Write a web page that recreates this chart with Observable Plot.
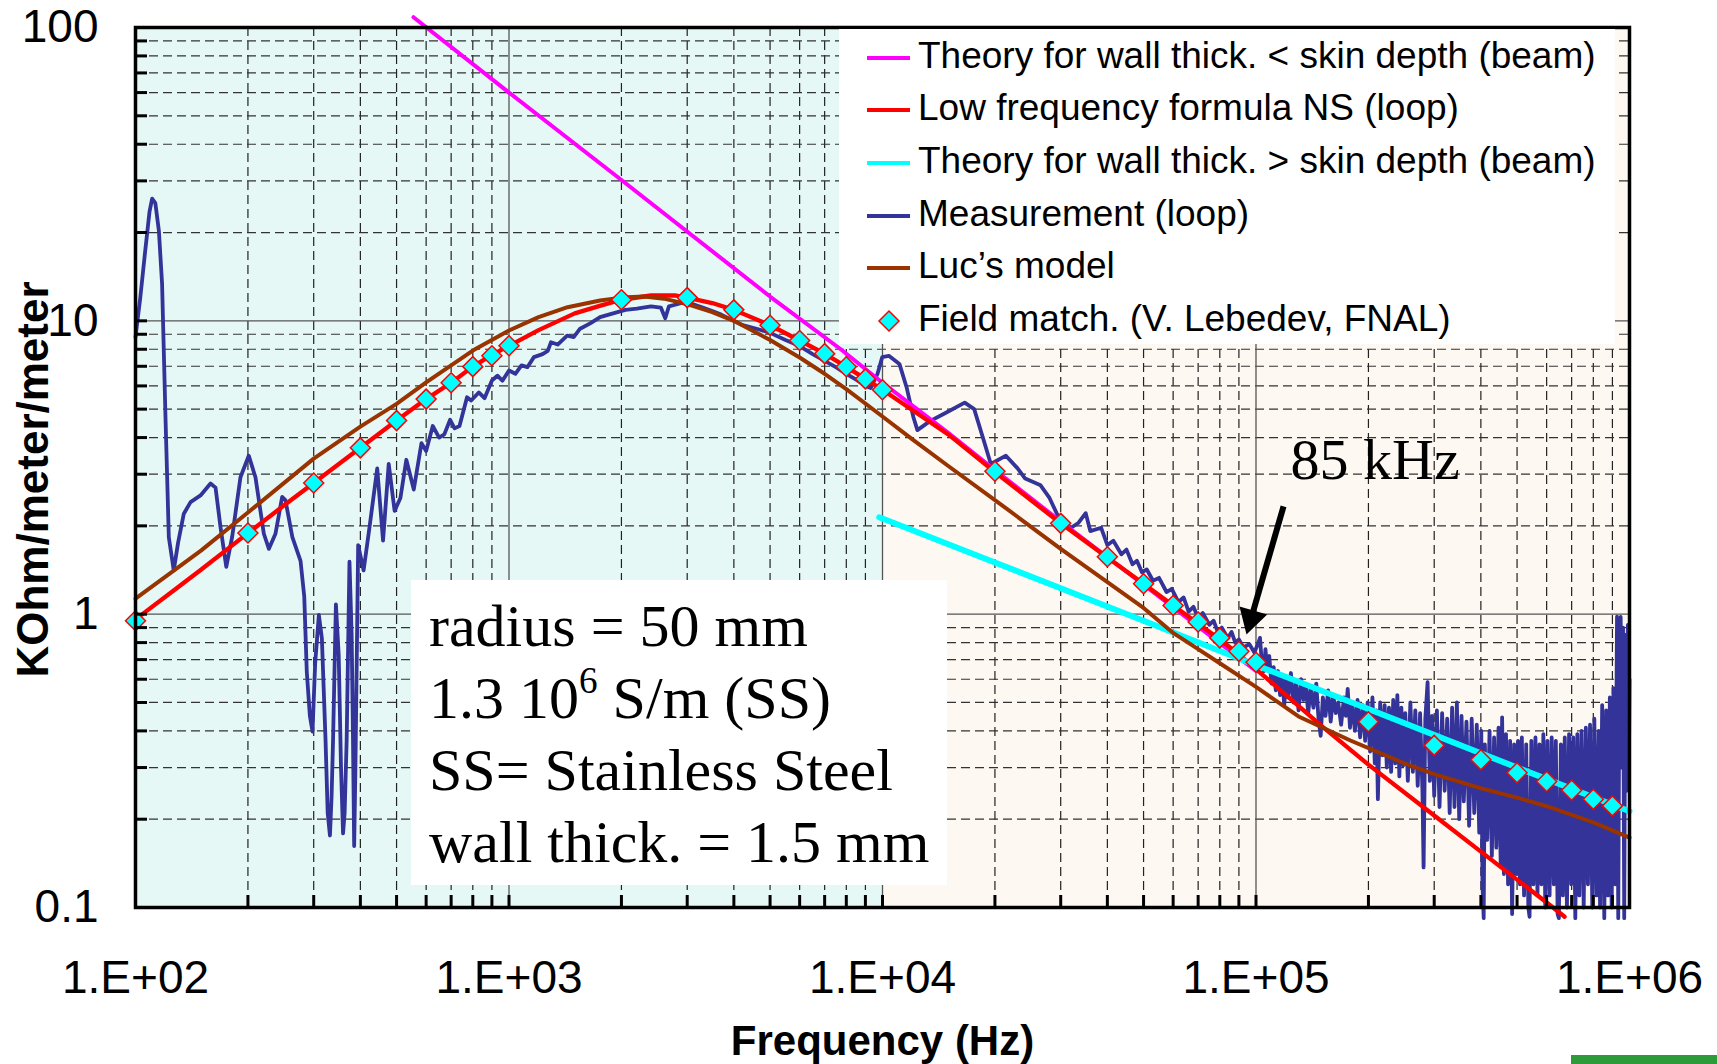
<!DOCTYPE html>
<html><head><meta charset="utf-8">
<script src="https://cdn.jsdelivr.net/npm/d3@7"></script>
<script src="https://cdn.jsdelivr.net/npm/@observablehq/plot@0.6"></script>
<style>
body{margin:0;background:#fff;}
#wrap{position:relative;width:1717px;height:1064px;overflow:hidden;background:#fff;}
#legend{position:absolute;left:839px;top:29px;width:776px;height:315px;background:#fff;font-family:"Liberation Sans",Arial,sans-serif;}
#legend .txt{position:absolute;left:79px;font-size:37px;line-height:44px;white-space:nowrap;color:#000;}
#legend .smp{position:absolute;left:28px;width:43px;height:4px;}
#params{position:absolute;left:411px;top:580px;width:536px;height:305px;background:#fff;font-family:"Liberation Serif","Times New Roman",serif;}
#params .ln{position:absolute;left:18px;font-size:60px;line-height:72px;white-space:nowrap;color:#000;}
#params sup{font-size:0.62em;line-height:0;position:relative;top:-0.1em;vertical-align:super;}
#greenbar{position:absolute;left:1571px;top:1055px;width:146px;height:9px;background:#2e9b3a;}
</style></head><body>
<div id="wrap"><div id="chart"></div></div>
<script>
// ---------- axis ticks ----------
const freqTicks = [1e2, 1e3, 1e4, 1e5, 1e6];
const freqTickLabels = ["1.E+02", "1.E+03", "1.E+04", "1.E+05", "1.E+06"];
const freqMinor = [200,300,400,500,600,700,800,900, 2000,3000,4000,5000,6000,7000,8000,9000,
  20000,30000,40000,50000,60000,70000,80000,90000, 200000,300000,400000,500000,600000,700000,800000,900000];
const impTicks = [0.1, 1, 10, 100];
const impTickLabels = ["0.1", "1", "10", "100"];
const impMinor = [0.2,0.3,0.4,0.5,0.6,0.7,0.8,0.9, 2,3,4,5,6,7,8,9, 20,30,40,50,60,70,80,90];
const xTitle = "Frequency (Hz)";
const yTitle = "KOhm/meter/meter";

// ---------- background bands (frequency ranges) ----------
const lowBand = [{from: 100, to: 1e4}];
const highBand = [{from: 1e4, to: 1e6}];

// ---------- series (frequency Hz, KOhm/m/m) ----------
const thinWallTheory = [[555,108.4],[1000,60],[2000,30.2],[5000,12.1],[7730,8.0],[10000,6.15],[15000,4.15],[20000,3.1],[30000,2.07],[50000,1.26],[100000,0.64]];

const lowFreqNS = [[100,0.96],[125,1.19],[150,1.42],[200,1.89],[250,2.35],[300,2.8],[400,3.69],[500,4.57],[600,5.41],[700,6.15],[800,6.98],[900,7.65],[1000,8.22],[1200,9.3],[1500,10.6],[1758,11.27],[2000,11.8],[2400,12.2],[2800,12.2],[3000,12.0],[3500,11.5],[4000,10.9],[5000,9.66],[6000,8.57],[7000,7.73],[8000,6.97],[9000,6.34],[10000,5.82],[15000,4.1],[20000,3.05],[30000,2.04],[40000,1.56],[50000,1.27],[60000,1.07],[70000,0.93],[80000,0.82],[90000,0.73],[100000,0.65],[150000,0.415],[200000,0.307],[300000,0.206],[400000,0.155],[500000,0.1245],[600000,0.104],[650000,0.096],[670000,0.093]];

const thickWallTheory = [[9800,2.14],[20000,1.5],[50000,0.95],[100000,0.67],[200000,0.475],[500000,0.30],[1000000,0.213]];

const lucModel = [[100,1.13],[125,1.39],[150,1.65],[200,2.22],[300,3.39],[400,4.36],[500,5.21],[600,6.17],[800,7.92],[1000,9.27],[1200,10.3],[1435,11.13],[1753,11.73],[2000,12.0],[2300,12.1],[2600,11.9],[3000,11.4],[3500,10.7],[4000,10.0],[5000,8.6],[6000,7.5],[7000,6.6],[8000,5.85],[10000,4.72],[12000,3.95],[15000,3.2],[20000,2.45],[30000,1.67],[38400,1.336],[50000,1.05],[59700,0.867],[70000,0.76],[80000,0.68],[92500,0.603],[100000,0.565],[130000,0.448],[179000,0.371],[250000,0.31],[300000,0.285],[400000,0.255],[500000,0.237],[603000,0.221],[800000,0.195],[1000000,0.173]];

const fieldMatch = [[100,0.95],[200,1.89],[300,2.8],[400,3.69],[500,4.57],[600,5.41],[700,6.15],[800,6.98],[900,7.6],[1000,8.22],[2000,11.8],[3000,12.0],[4000,10.9],[5000,9.66],[6000,8.57],[7000,7.73],[8000,6.97],[9000,6.34],[10000,5.82],[20000,3.07],[30000,2.04],[40000,1.57],[50000,1.27],[60000,1.07],[70000,0.94],[80000,0.83],[90000,0.747],[100000,0.686],[200000,0.43],[300000,0.357],[400000,0.319],[500000,0.288],[600000,0.269],[700000,0.251],[800000,0.234],[900000,0.222]];

const measurement = [[100,8.8],[103,12],[106,17],[109,23.5],[110.8,26.1],[113,25.2],[115.5,20.3],[117.8,13.4],[120.3,4.7],[122.8,1.83],[126.6,1.41],[130,1.75],[134.7,2.2],[140.4,2.41],[149.3,2.54],[158.8,2.79],[163.8,2.7],[168.9,1.98],[175,1.45],[181.4,1.83],[191,2.93],[201,3.47],[209.5,2.93],[220.6,1.88],[227.6,1.67],[237,1.88],[247,2.51],[252,2.45],[263,1.83],[276.6,1.52],[283,1.15],[287.5,0.635],[293,0.45],[297.8,0.398],[302.7,0.679],[309.7,0.994],[315.5,0.828],[322.7,0.372],[327,0.21],[331.6,0.176],[335,0.24],[338,0.372],[344,1.08],[350,0.725],[355,0.3],[359.5,0.179],[363,0.21],[367.6,0.372],[374,1.51],[379,0.856],[382,0.4],[385,0.162],[388,0.3],[394.6,1.72],[408,1.41],[423,1.97],[443.8,3.14],[460,1.78],[476.4,3.25],[494,2.25],[512,2.49],[531,3.36],[556,2.66],[583,3.83],[600,3.6],[625,4.38],[650,4.0],[671,4.1],[695.6,4.6],[715,4.3],[737,4.38],[772,5.49],[792,5.35],[830,5.7],[860,5.45],[900,6.26],[931,6.5],[960,6.25],[1000,6.77],[1040,6.6],[1080,7.05],[1120,6.95],[1166,7.52],[1230,7.7],[1270,7.9],[1295,8.45],[1350,8.3],[1431,8.9],[1490,8.8],[1550,9.4],[1650,9.8],[1753,10.3],[1900,10.6],[2050,10.9],[2200,11.0],[2400,11.2],[2550,11.1],[2620,10.2],[2680,11.2],[2900,11.5],[3100,11.4],[3300,11.1],[3500,10.8],[3700,10.5],[4000,10.0],[4200,9.7],[4600,9.4],[5000,9.1],[5500,8.6],[6000,8.2],[6500,7.7],[7000,7.3],[7500,6.95],[8000,6.6],[8500,6.3],[9000,6.0],[9300,5.9],[9700,6.6],[9980,7.52],[10400,7.6],[11100,7.13],[11600,5.94],[12100,4.69],[12400,4.24],[13400,4.55],[14700,4.84],[16600,5.26],[17600,5.0],[18600,3.97],[19500,3.25],[21400,3.47],[23000,3.14],[24100,2.9],[26500,2.75],[28000,2.49],[29800,2.1],[32000,1.97],[33500,2.05],[35000,2.21],[36000,1.92],[38500,1.97],[40000,1.72],[41500,1.78],[43600,1.60],[45000,1.66],[46700,1.48],[48000,1.52],[49500,1.39],[51000,1.42],[53000,1.30],[55000,1.33],[57600,1.19],[59500,1.22],[62000,1.10],[64000,1.14],[66000,1.02],[68000,1.06],[70000,0.97],[72000,1.01],[75000,0.92],[77000,0.95],[79000,0.87],[81000,0.90],[84000,0.83],[86000,0.87],[88000,0.80],[90000,0.82],[92500,0.77],[96000,0.79],[99000,0.74],
[101500,0.80],[102500,0.83],[103500,0.70],[105000,0.64],[106000,0.76],[107000,0.66],[108500,0.72],[110000,0.58],[111500,0.66],[113000,0.55],[114500,0.64],[116000,0.53],[117500,0.62],[119000,0.49],[120500,0.60],[122000,0.52],[124000,0.63],[126000,0.50],[128000,0.58],[130000,0.47],[132000,0.60],[134000,0.51],[136000,0.57],[138000,0.46],[140000,0.56],[142500,0.48],[145000,0.58],[147000,0.44],[149000,0.385],[151000,0.52],[153500,0.45],[156000,0.55],[158500,0.43],[161000,0.53],[163500,0.46],[166000,0.50],[169000,0.42],[172000,0.52],[174000,0.45],[176000,0.556],[178500,0.41],[181000,0.50],[184000,0.40],[187000,0.51],[190000,0.38],[193000,0.49],[196000,0.37],[199000,0.50],
[202000,0.34],[205000,0.52],[208000,0.31],[210000,0.47],[212000,0.234],[215000,0.50],[218000,0.33],[221000,0.49],[224000,0.30],[227000,0.48],[230000,0.29],[233000,0.51],[236000,0.31],[239000,0.53],[242000,0.28],[245000,0.48],[248000,0.305],[251000,0.46],[255000,0.27],[259000,0.50],[263000,0.29],[267000,0.47],[271000,0.26],[275000,0.46],[279000,0.25],[281000,0.137],[284000,0.44],[288000,0.586],[292000,0.27],[296000,0.45],[300000,0.24],[305000,0.47],[310000,0.22],[315000,0.46],[320000,0.25],[325000,0.44],[330000,0.21],[335000,0.48],[340000,0.22],[345000,0.50],[350000,0.20],[355000,0.45],[360000,0.23],[366000,0.43],[372000,0.19],[378000,0.44],[384000,0.21],[390000,0.42],[396000,0.18],[401000,0.40],[404000,0.12],[407000,0.092],[410000,0.36],
[416000,0.17],[422000,0.40],[428000,0.15],[434000,0.38],[440000,0.16],[446000,0.41],[452000,0.14],[456000,0.445],[461000,0.13],[467000,0.39],[473000,0.12],[479000,0.37],[485000,0.095],[491000,0.36],[497000,0.13],[503000,0.37],[509000,0.12],[515000,0.38],[522000,0.11],[529000,0.36],[536000,0.10],[540000,0.093],[546000,0.37],[553000,0.12],[560000,0.38],[567000,0.11],[574000,0.36],[581000,0.12],[588000,0.39],[595000,0.10],[603000,0.37],[611000,0.11],[619000,0.38],[627000,0.12],[635000,0.37],[642000,0.095],[647000,0.092],[655000,0.36],[663000,0.11],[671000,0.38],[680000,0.10],[689000,0.39],[698000,0.12],[707000,0.38],[716000,0.092],[725000,0.39],[734000,0.11],[744000,0.40],[754000,0.10],[764000,0.41],[774000,0.12],[784000,0.42],[795000,0.10],[805000,0.44],[816000,0.11],[827000,0.40],[834000,0.10],[845000,0.49],[856000,0.092],[866000,0.47],[876000,0.11],[886000,0.52],[896000,0.10],[906000,0.56],[916000,0.12],[926000,0.98],[933000,0.092],[940000,0.78],[947000,0.978],[954000,0.30],[961000,0.90],[968000,0.092],[975000,0.85],[982000,0.25],[990000,0.92],[997000,0.33],[1000000,0.60]];

// ---------- annotations ----------
const markerLabel = ["85 kHz"];
const markerLabelAt = [[123700, 3.355]];
const markerArrow = [[118500, 2.33, 97000, 0.966]];

// ---------- legend / parameters ----------
const legendLabels = ["Theory for wall thick. < skin depth (beam)", "Low frequency formula NS (loop)",
  "Theory for wall thick. > skin depth (beam)", "Measurement (loop)", "Luc\u2019s model", "Field match. (V. Lebedev, FNAL)"];
const legendColors = ["#ff00ff", "#ff0000", "#00ffff", "#333399", "#993300", null];
const paramLines = ["radius = 50 mm", "1.3 10<sup>6</sup> S/m (SS)", "SS= Stainless Steel", "wall thick. = 1.5 mm"];

const X = d => d[0], Y = d => d[1];

const chart = Plot.plot({
  width: 1717, height: 1064,
  marginLeft: 135, marginRight: 88, marginTop: 27, marginBottom: 157,
  style: {fontFamily: "'Liberation Sans', Arial, sans-serif", background: "transparent", overflow: "visible", color: "black"},
  x: {type: "log", domain: [100, 1e6]},
  y: {type: "log", domain: [0.1, 100]},
  marks: [
    Plot.rect(lowBand, {x1: "from", x2: "to", y1: 0.1, y2: 100, fill: "#e6f8f6"}),
    Plot.rect(highBand, {x1: "from", x2: "to", y1: 0.1, y2: 100, fill: "#fdf8f1"}),
    Plot.ruleX(freqMinor, {stroke: "#222", strokeWidth: 1.2, strokeDasharray: "9,5"}),
    Plot.ruleY(impMinor, {stroke: "#333", strokeWidth: 1.2, strokeDasharray: "9,5"}),
    Plot.ruleX(freqTicks.slice(1, -1), {stroke: "#555", strokeWidth: 1.3}),
    Plot.ruleY(impTicks.slice(1, -1), {stroke: "#555", strokeWidth: 1.3}),
    Plot.line(measurement, {x: X, y: Y, stroke: "#333399", strokeWidth: 3.8}),
    Plot.line(thinWallTheory, {x: X, y: Y, stroke: "#ff00ff", strokeWidth: 4}),
    Plot.line(lowFreqNS, {x: X, y: Y, stroke: "#ff0000", strokeWidth: 4.3}),
    Plot.line(thickWallTheory, {x: X, y: Y, stroke: "#00ffff", strokeWidth: 6}),
    Plot.line(lucModel, {x: X, y: Y, stroke: "#993300", strokeWidth: 4}),
    Plot.dot(fieldMatch, {x: X, y: Y, symbol: "diamond2", r: 9, fill: "#00ffff", stroke: "#ff0000", strokeWidth: 1.5}),
    Plot.link(markerArrow, {x1: d => d[0], y1: d => d[1], x2: d => d[2], y2: d => d[3], stroke: "black", strokeWidth: 6}),
    Plot.dot(markerArrow, {x: d => d[2], y: d => d[3], symbol: "triangle", r: 10.7, fill: "black", stroke: "none", rotate: 196}),
    Plot.text(markerLabelAt, {x: X, y: Y, text: (d, i) => markerLabel[i], textAnchor: "start", fontSize: 58, fontFamily: "'Liberation Serif', 'Times New Roman', serif", fill: "black"}),
    Plot.axisY({ticks: [...impTicks, ...impMinor], tickSize: -12, strokeWidth: 3, fill: "none", label: null}),
    Plot.axisX({ticks: [...freqTicks, ...freqMinor], tickSize: -12, strokeWidth: 3, fill: "none", label: null}),
    Plot.frame({stroke: "black", strokeWidth: 3.5}),
    Plot.text(impTicks, {y: d => d, text: (d, i) => impTickLabels[i], frameAnchor: "left", dx: -37, textAnchor: "end", lineAnchor: "middle", fontSize: 46, fill: "black"}),
    Plot.text(freqTicks, {x: d => d, text: (d, i) => freqTickLabels[i], frameAnchor: "bottom", dy: 71, lineAnchor: "middle", textAnchor: "middle", fontSize: 46, fill: "black"}),
    Plot.text([xTitle], {text: d => d, frameAnchor: "bottom", dy: 134, lineAnchor: "middle", textAnchor: "middle", fontSize: 42, fontWeight: "bold", fill: "black"}),
    Plot.text([yTitle], {text: d => d, frameAnchor: "left", dx: -102, dy: 12, rotate: -90, textAnchor: "middle", lineAnchor: "middle", fontSize: 44, fontWeight: "bold", fill: "black"})
  ]
});
const wrap = document.getElementById("wrap");
document.getElementById("chart").appendChild(chart);

// legend overlay
const leg = document.createElement("div");
leg.id = "legend";
legendLabels.forEach((lab, i) => {
  const cy = 28.5 + 52.7 * i;
  if (legendColors[i]) {
    const s = document.createElement("div");
    s.className = "smp";
    s.style.top = (cy - 2) + "px";
    s.style.background = legendColors[i];
    leg.appendChild(s);
  } else {
    const ns = "http://www.w3.org/2000/svg";
    const sv = document.createElementNS(ns, "svg");
    sv.setAttribute("width", 24); sv.setAttribute("height", 24);
    sv.style.position = "absolute"; sv.style.left = (49.5 - 12) + "px"; sv.style.top = (cy - 12) + "px";
    const p = document.createElementNS(ns, "path");
    p.setAttribute("d", "M12,2L22,12L12,22L2,12Z");
    p.setAttribute("fill", "#00ffff"); p.setAttribute("stroke", "#ff0000"); p.setAttribute("stroke-width", "1.5");
    sv.appendChild(p); leg.appendChild(sv);
  }
  const t = document.createElement("div");
  t.className = "txt";
  t.style.top = (4.5 + 52.7 * i) + "px";
  t.textContent = lab;
  leg.appendChild(t);
});
wrap.appendChild(leg);

// parameter box overlay
const pb = document.createElement("div");
pb.id = "params";
paramLines.forEach((l, i) => {
  const d = document.createElement("div");
  d.className = "ln";
  d.style.top = (9.7 + 72 * i) + "px";
  d.innerHTML = l;
  pb.appendChild(d);
});
wrap.appendChild(pb);

const gb = document.createElement("div");
gb.id = "greenbar";
wrap.appendChild(gb);
</script>
</body></html>
